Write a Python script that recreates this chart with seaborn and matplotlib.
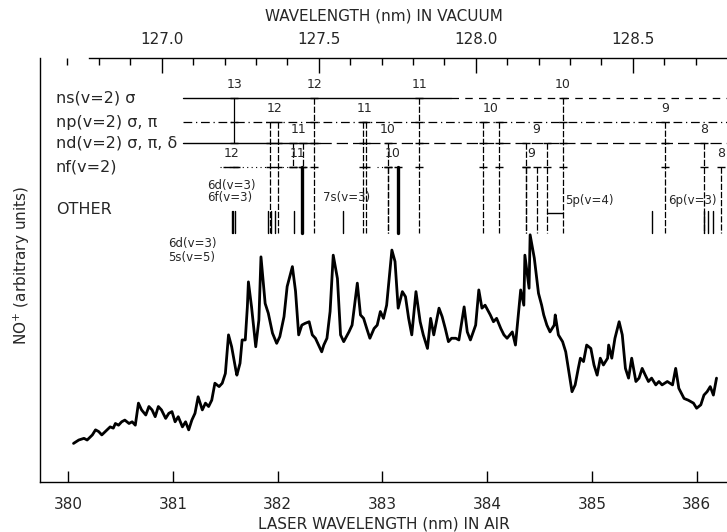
import numpy as np
import pandas as pd
import matplotlib
matplotlib.use("Agg")
import matplotlib.pyplot as plt
import seaborn as sns

# ---------------- data ----------------
wl_air = [380.05, 380.10, 380.15, 380.18, 380.23, 380.26, 380.29, 380.32, 380.37, 380.40,
          380.43, 380.45, 380.48, 380.51, 380.54, 380.58, 380.61, 380.64, 380.67, 380.70,
          380.74, 380.77, 380.80, 380.83, 380.86, 380.89, 380.93, 380.96, 380.99, 381.02,
          381.05, 381.09, 381.12, 381.15, 381.18, 381.21, 381.24, 381.28, 381.31, 381.34,
          381.37, 381.40, 381.44, 381.47, 381.50, 381.53, 381.56, 381.60, 381.61, 381.64,
          381.66, 381.69, 381.71, 381.72, 381.75, 381.79, 381.82, 381.84, 381.88, 381.91,
          381.95, 381.99, 382.02, 382.06, 382.09, 382.14, 382.17, 382.20, 382.23, 382.26,
          382.30, 382.33, 382.36, 382.39, 382.42, 382.44, 382.47, 382.50, 382.53, 382.57,
          382.60, 382.63, 382.68, 382.71, 382.76, 382.79, 382.82, 382.85, 382.88, 382.92,
          382.95, 382.98, 383.01, 383.04, 383.09, 383.12, 383.15, 383.19, 383.22, 383.25,
          383.28, 383.32, 383.36, 383.39, 383.43, 383.46, 383.49, 383.54, 383.57, 383.60,
          383.63, 383.66, 383.70, 383.73, 383.78, 383.81, 383.84, 383.89, 383.92, 383.95,
          383.98, 384.03, 384.06, 384.09, 384.13, 384.16, 384.19, 384.24, 384.27, 384.32,
          384.35, 384.36, 384.40, 384.41, 384.45, 384.49, 384.52, 384.54, 384.57, 384.60,
          384.64, 384.65, 384.68, 384.72, 384.75, 384.78, 384.81, 384.84, 384.87, 384.89,
          384.92, 384.95, 384.99, 385.02, 385.05, 385.08, 385.11, 385.15, 385.16, 385.19,
          385.22, 385.26, 385.29, 385.32, 385.35, 385.38, 385.42, 385.45, 385.48, 385.51,
          385.54, 385.57, 385.61, 385.64, 385.67, 385.72, 385.77, 385.80, 385.83, 385.88,
          385.92, 385.97, 386.00, 386.04, 386.07, 386.10, 386.13, 386.16, 386.19]
no_plus = [9.1, 9.9, 10.3, 9.9, 11.1, 12.3, 11.9, 11.1, 12.3, 13.0,
           12.7, 13.8, 13.4, 14.2, 14.6, 13.8, 14.2, 13.4, 18.6, 17.0,
           15.8, 17.8, 17.0, 15.4, 17.8, 17.0, 15.0, 16.2, 16.6, 14.2,
           15.4, 13.0, 14.2, 12.3, 14.6, 16.2, 20.1, 17.0, 18.6, 17.8,
           19.3, 23.3, 22.5, 23.3, 25.6, 34.7, 31.9, 26.4, 25.2, 28.0,
           33.5, 33.5, 41.3, 47.2, 41.3, 31.9, 38.2, 53.1, 42.1, 39.8,
           35.1, 32.7, 34.3, 39.0, 46.1, 50.8, 45.0, 34.7, 37.0, 37.4,
           37.8, 34.7, 33.9, 32.3, 30.7, 32.3, 33.9, 40.2, 53.5, 48.0,
           34.7, 33.1, 35.4, 37.0, 46.9, 39.4, 38.6, 36.2, 33.9, 36.2,
           37.0, 40.2, 38.6, 41.7, 54.7, 52.0, 41.0, 44.9, 43.7, 38.6,
           34.7, 44.9, 37.8, 34.7, 31.5, 38.6, 34.7, 41.0, 39.0, 36.2,
           33.1, 33.9, 33.9, 33.5, 41.3, 35.4, 33.5, 37.0, 45.3, 41.0,
           41.7, 39.4, 37.8, 38.6, 36.2, 34.7, 33.9, 35.4, 32.3, 45.3,
           41.7, 53.5, 45.7, 58.3, 52.8, 44.5, 41.7, 39.4, 37.0, 35.4,
           37.0, 39.4, 34.7, 33.1, 30.7, 26.0, 21.3, 22.9, 26.8, 29.2,
           28.4, 32.3, 31.5, 27.6, 25.2, 29.2, 27.6, 29.2, 32.3, 29.2,
           33.9, 37.8, 34.7, 26.8, 24.5, 29.2, 23.7, 24.5, 26.8, 25.2,
           23.7, 24.5, 22.9, 23.7, 22.9, 23.7, 22.9, 26.8, 22.1, 19.7,
           19.3, 18.6, 17.4, 18.2, 20.5, 21.3, 22.5, 20.5, 24.5]

bottom_ticks = [380, 381, 382, 383, 384, 385, 386]
top_ticks = [127.0, 127.5, 128.0, 128.5]
top_tick_labels = ["127.0", "127.5", "128.0", "128.5"]

row_names = ["ns(v=2) σ", "np(v=2) σ, π", "nd(v=2) σ, π, δ", "nf(v=2)", "OTHER"]

ns_pos = [[381.585], [382.35], [383.35], [384.72]]
ns_lab = ["13", "12", "11", "10"]
np_pos = [[381.93, 382.00], [382.81, 382.84], [383.96, 384.11], [385.70]]
np_lab = ["12", "11", "10", "9"]
nd_pos = [[382.15, 382.24], [383.05], [384.37, 384.57], [386.07]]
nd_lab = ["11", "10", "9", "8"]
nf_pos = [[381.52, 381.60], [382.15, 382.23], [383.05, 383.15], [384.37, 384.48], [386.23]]
nf_lab = ["12", "11", "10", "9", "8"]
nf_strong = [382.23, 383.15]

other_lines = [381.56, 381.575, 381.59, 381.91, 381.94, 381.97, 382.16, 382.62,
               385.57, 386.07, 386.11, 386.16]
other_labels = ["6d(v=3)", "6f(v=3)", "7s(v=3)", "5p(v=4)", "6p(v=3)", "6d(v=3)", "5s(v=5)"]
other_label_x = [381.33, 381.33, 382.43, 384.74, 385.73, 380.95, 380.95]

# ---------------- figure ----------------
sns.set_theme(style="ticks")
plt.rcParams['font.family'] = ['DejaVu Sans']

W, H = 727, 532
fig = plt.figure(figsize=(W / 100, H / 100), dpi=100)
ax = fig.add_axes([40 / W, 50 / H, 687 / W, 424 / H])

df = pd.DataFrame({"wl": wl_air, "sig": no_plus})
sns.lineplot(data=df, x="wl", y="sig", ax=ax, color="black", lw=2.0, sort=False)

ax.set_xlim(379.73, 386.29)
ax.set_ylim(0, 100)
ax.set_yticks([])
ax.set_ylabel("")
ax.set_xlabel("LASER WAVELENGTH (nm) IN AIR", fontsize=11, labelpad=3)
ax.set_xticks(bottom_ticks)
ax.set_xticklabels([str(t) for t in bottom_ticks])
ax.tick_params(axis='x', direction='in', length=8, width=1, pad=11, labelsize=11, color='black')
for s in ['left', 'bottom']:
    ax.spines[s].set_color('black')
    ax.spines[s].set_linewidth(1)
ax.spines['right'].set_visible(False)
ax.spines['top'].set_visible(False)

sec = ax.secondary_xaxis('top', functions=(lambda x: x * 1.000283 / 3, lambda v: v * 3 / 1.000283))
sec.set_xticks(top_ticks)
sec.set_xticklabels(top_tick_labels)
sec.set_xticks(np.arange(126.7, 128.85, 0.1), minor=True)
sec.tick_params(which='major', direction='in', length=11, width=1, pad=8, labelsize=11, color='black')
sec.tick_params(which='minor', direction='in', length=5, width=1, color='black')
sec.set_xlabel("WAVELENGTH (nm) IN VACUUM", fontsize=11, labelpad=8)
sec.spines['top'].set_color('black')
sec.spines['top'].set_linewidth(1)
sec.spines['top'].set_bounds(126.77, 128.81)

fig.text(22 / W, 1 - 265 / H, "NO$^{+}$ (arbitrary units)", rotation=90,
         ha='center', va='center', fontsize=11)

# ---------------- level annotations ----------------
row_y = [90.6, 84.9, 80.0, 74.3, 64.2]
y_bot = 58.7
lx = 379.88
for name, y in zip(row_names, row_y):
    ax.text(lx, y, name, ha='left', va='center', fontsize=11.5)

# horizontal row lines
ax.plot([381.10, 383.65], [row_y[0]] * 2, color='black', lw=1)
ax.plot([383.65, 386.29], [row_y[0]] * 2, color='black', lw=0.9, ls=(0, (6, 5)))
ax.plot([381.10, 386.29], [row_y[1]] * 2, color='black', lw=0.9, ls=(0, (7, 3, 1, 3)))
ax.plot([381.10, 382.40], [row_y[2]] * 2, color='black', lw=1)
ax.plot([382.40, 386.29], [row_y[2]] * 2, color='black', lw=0.9, ls=(0, (9, 4)))
ax.plot([381.45, 382.30], [row_y[3]] * 2, color='black', lw=0.8, ls=(0, (1, 3)))
ax.plot([382.95, 383.20], [row_y[3]] * 2, color='black', lw=0.8, ls=(0, (1, 3)))

# where a drop line ends (default: bottom of the OTHER band)
stop_at = {381.585: row_y[2], 381.52: row_y[3], 381.60: row_y[3],
           382.15: row_y[3], 382.24: row_y[3]}

series = [(ns_pos, ns_lab), (np_pos, np_lab), (nd_pos, nd_lab), (nf_pos, nf_lab)]
for i, (groups, labs) in enumerate(series):
    y0 = row_y[i]
    for grp, lab in zip(groups, labs):
        for p in grp:
            strong = p in nf_strong and i == 3
            y1 = stop_at.get(p, y_bot) if i < 3 or p not in stop_at else None
            if strong:
                ax.plot([p, p], [y0, y_bot], color='black', lw=2.4)
            elif y1 is not None and y1 < y0:
                ax.plot([p, p], [y0, y1], color='black', lw=0.9,
                        ls='-' if i == 0 and y1 > 70 else (0, (5, 1.5)))
            ax.plot([p] * (4 - i), row_y[i:4], ls='none', marker='_', ms=6,
                    mew=1, color='black')
        ax.text(np.mean(grp), y0 + 3.2, lab, ha='center', va='center', fontsize=9)

for p in other_lines:
    ax.plot([p, p], [63.8, y_bot], color='black', lw=1)

# bracket for 5p(v=4)
ax.plot([384.57, 384.72], [63.4, 63.4], color='black', lw=1)

other_label_y = [70.0, 67.0, 67.0, 66.5, 66.5, 56.3, 52.9]
for t, x, y in zip(other_labels, other_label_x, other_label_y):
    ax.text(x, y, t, ha='left', va='center', fontsize=8.5)

fig.savefig("out.png", dpi=100)
